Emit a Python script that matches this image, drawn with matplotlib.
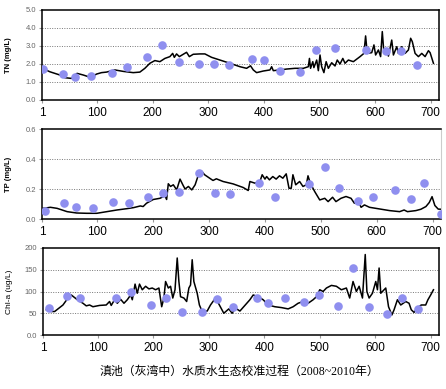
"""
滇池（灰湾中）水质水生态校准过程 2008~2010
TN / TP / Chl-a 模拟值(线) 与 实测值(点)
"""
import matplotlib
matplotlib.use('Agg')
import matplotlib.pyplot as plt

# ============ 数据 ============
# TN 模拟 (天, mg/L)
tn_day = [2, 15, 33, 42, 54, 64, 75, 84, 93, 99, 108, 117, 132, 147, 165, 177, 186, 195,
          204, 213, 222, 231, 236, 239, 243, 248, 255, 261, 266, 273, 285, 294, 306, 321,
          339, 357, 369, 376, 381, 387, 399, 411, 414, 417, 429, 441, 456, 471, 480, 482,
          484, 488, 490, 495, 498, 501, 504, 508, 512, 516, 522, 528, 532, 537, 542, 546,
          552, 561, 573, 580, 583, 586, 594, 598, 601, 606, 610, 613, 616, 621, 624, 630,
          633, 639, 642, 648, 654, 660, 664, 667, 672, 678, 684, 690, 696, 699, 705]
tn_sim = [1.76, 1.57, 1.39, 1.24, 1.20, 1.48, 1.39, 1.30, 1.33, 1.44, 1.52, 1.55, 1.67, 1.59,
          1.52, 1.55, 1.76, 2.04, 2.19, 2.13, 2.31, 2.41, 2.59, 2.37, 2.56, 2.41, 2.54, 2.65,
          2.41, 2.54, 2.56, 2.56, 2.37, 2.22, 2.04, 1.85, 1.76, 1.90, 1.67, 1.52, 1.61, 1.67,
          1.85, 1.63, 1.67, 1.72, 1.76, 1.76, 1.85, 2.31, 1.76, 2.13, 1.80, 2.22, 1.63, 2.50,
          1.85, 1.52, 2.13, 1.76, 2.07, 1.89, 2.22, 2.00, 2.31, 2.04, 2.22, 2.13, 2.41, 2.59,
          3.56, 2.59, 2.63, 3.06, 2.50, 2.78, 2.41, 3.80, 2.59, 2.78, 2.44, 3.33, 2.50, 2.96,
          2.59, 2.96, 2.59, 2.78, 3.43, 3.24, 2.59, 2.41, 2.59, 2.41, 2.74, 2.63, 2.04]
# TN 实测
tn_obs_day = [2, 38, 60, 90, 126, 154, 189, 217, 247, 284, 311, 338, 379, 401, 429, 465,
              493, 528, 583, 619, 646, 676]
tn_obs = [1.72, 1.44, 1.30, 1.35, 1.52, 1.83, 2.37, 3.07, 2.13, 2.02, 2.02, 1.94, 2.26,
          2.22, 1.61, 1.57, 2.76, 2.91, 2.80, 2.72, 2.74, 1.93]

# TP 模拟 (天, mg/L)
tp_day = [3, 16, 28, 46, 63, 81, 99, 117, 135, 153, 165, 177, 182, 188, 200, 212, 221, 224,
          227, 231, 236, 242, 248, 253, 257, 263, 269, 275, 281, 287, 292, 301, 307, 313,
          325, 343, 361, 370, 373, 382, 391, 395, 400, 403, 408, 414, 420, 426, 432, 438,
          443, 447, 450, 455, 462, 468, 474, 477, 481, 489, 498, 507, 513, 521, 527, 536,
          545, 554, 560, 566, 572, 578, 587, 605, 623, 641, 649, 655, 670, 679, 688, 694,
          699, 704, 710, 716]
tp_sim = [0.071, 0.078, 0.071, 0.049, 0.040, 0.038, 0.038, 0.049, 0.060, 0.069, 0.076,
          0.087, 0.083, 0.105, 0.130, 0.138, 0.154, 0.130, 0.235, 0.217, 0.228, 0.194,
          0.266, 0.228, 0.200, 0.217, 0.194, 0.228, 0.295, 0.317, 0.295, 0.272, 0.257,
          0.268, 0.250, 0.234, 0.210, 0.190, 0.250, 0.239, 0.250, 0.295, 0.266, 0.283,
          0.261, 0.283, 0.266, 0.288, 0.272, 0.301, 0.205, 0.205, 0.295, 0.228, 0.250,
          0.217, 0.228, 0.288, 0.239, 0.183, 0.127, 0.138, 0.116, 0.145, 0.116, 0.138,
          0.150, 0.138, 0.105, 0.127, 0.078, 0.094, 0.078, 0.067, 0.056, 0.049, 0.060,
          0.049, 0.056, 0.065, 0.083, 0.110, 0.149, 0.090, 0.066, 0.065]
# TP 实测
tp_obs_day = [6, 41, 62, 92, 128, 156, 191, 218, 247, 282, 310, 338, 390, 418, 479, 507,
              533, 566, 594, 632, 661, 684, 715]
tp_obs = [0.056, 0.105, 0.078, 0.071, 0.116, 0.109, 0.145, 0.176, 0.181, 0.310, 0.172,
          0.165, 0.243, 0.147, 0.234, 0.350, 0.210, 0.123, 0.145, 0.193, 0.131, 0.242, 0.031]

# Chl-a 模拟 (天, ug/L)
chl_day = [7, 16, 22, 28, 37, 46, 52, 58, 64, 73, 79, 85, 91, 103, 115, 121, 124, 130,
           135, 141, 147, 153, 159, 162, 167, 171, 175, 180, 186, 192, 198, 204, 210, 215,
           219, 222, 227, 231, 235, 239, 243, 246, 249, 255, 260, 264, 267, 270, 273, 279,
           283, 288, 297, 303, 312, 319, 327, 336, 342, 348, 356, 365, 374, 380, 389, 398,
           407, 419, 431, 443, 452, 461, 470, 479, 488, 494, 500, 506, 512, 521, 530, 539,
           548, 554, 560, 566, 571, 577, 582, 585, 589, 595, 601, 604, 607, 610, 616, 619,
           624, 630, 634, 640, 646, 655, 661, 665, 670, 676, 683, 691, 695, 700, 705]
chl_sim = [58, 54, 54, 60, 69, 85, 92, 86, 80, 73, 67, 69, 65, 68, 69, 77, 68, 81, 73, 82,
           73, 81, 92, 81, 117, 96, 117, 104, 112, 106, 108, 104, 108, 65, 85, 123, 108, 112,
           85, 104, 177, 123, 88, 85, 77, 108, 115, 173, 123, 96, 69, 54, 55, 69, 85, 69, 50,
           60, 50, 62, 55, 68, 81, 92, 88, 81, 69, 65, 63, 60, 65, 73, 77, 73, 81, 88, 104,
           100, 108, 114, 112, 104, 108, 85, 123, 100, 112, 85, 185, 100, 85, 96, 123, 104,
           154, 96, 104, 108, 65, 46, 58, 81, 69, 77, 73, 58, 52, 62, 69, 69, 81, 92, 104]
# Chl-a 实测
chl_obs_day = [11, 45, 68, 132, 160, 195, 222, 252, 288, 315, 343, 386, 407, 437, 471, 499,
               533, 560, 588, 621, 648, 677]
chl_obs = [63, 90, 84, 86, 98, 69, 86, 52, 52, 82, 65, 86, 73, 84, 76, 92, 67, 153, 65,
           48, 84, 60]

x_ticks = [1, 100, 200, 300, 400, 500, 600, 700]
tn_ticks = [0.0, 1.0, 2.0, 3.0, 4.0, 5.0]
tp_ticks = [0.0, 0.2, 0.4, 0.6]
chl_ticks = [0, 50, 100, 150, 200]
chl_tick_labels = ['0.0', '50', '100', '150', '200']

title = '滇池（灰湾中）水质水生态校准过程（2008~2010年）'

# ============ 画图 ============
DOT = '#8f8fef'
W, H = 446, 389

fig = plt.figure(figsize=(W / 100, H / 100), dpi=100)


def px_axes(left, top, right, bottom):
    return fig.add_axes([left / W, 1 - bottom / H, (right - left) / W, (bottom - top) / H])


def style(ax, yticks, ylim, ylabel, bold=True, ylabels=None):
    ax.set_xlim(1, 715)
    ax.set_ylim(*ylim)
    ax.set_xticks(x_ticks)
    ax.set_xticklabels([str(t) for t in x_ticks], fontsize=8.5, family='Liberation Sans')
    ax.set_yticks(yticks)
    if ylabels is None:
        ylabels = ['%.1f' % t for t in yticks]
    ax.set_yticklabels(ylabels, fontsize=5.5, color='#666666', family='Liberation Sans')
    ax.tick_params(axis='x', length=2, color='#999999', pad=3)
    ax.tick_params(axis='y', length=2, color='#999999', pad=2)
    for t in yticks[1:-1]:
        ax.axhline(t, color='#777777', lw=0.7, ls=(0, (1, 1.5)), zorder=0)
    for s in ax.spines.values():
        s.set_linewidth(1.1)
        s.set_color('black')
    ax.set_ylabel(ylabel, fontsize=5.5, fontweight='bold' if bold else 'normal',
                  family='Liberation Sans')
    ax.yaxis.set_label_coords(-0.076, 0.5)


# TN
ax1 = px_axes(42, 10, 439, 100)
ax1.plot(tn_day, tn_sim, color='black', lw=1.1, zorder=2)
ax1.plot(tn_obs_day, tn_obs, 'o', color=DOT, ms=6.2, mec='none', zorder=3)
style(ax1, tn_ticks, (0, 5), 'TN (mg/L)')

# TP
ax2 = px_axes(42, 129, 441, 219)
ax2.plot(tp_day, tp_sim, color='black', lw=1.1, zorder=2)
ax2.plot(tp_obs_day, tp_obs, 'o', color=DOT, ms=6.2, mec='none', zorder=3)
style(ax2, tp_ticks, (0, 0.6), 'TP (mg/L)')
ax2.spines['right'].set_color('#cccccc')
ax2.spines['right'].set_linewidth(0.8)

# Chl-a
ax3 = px_axes(43, 248, 439, 335)
ax3.plot(chl_day, chl_sim, color='black', lw=1.1, zorder=2)
ax3.plot(chl_obs_day, chl_obs, 'o', color=DOT, ms=6.2, mec='none', zorder=3)
style(ax3, chl_ticks, (0, 200), 'Chl-a (ug/L)', bold=False, ylabels=chl_tick_labels)
ax3.yaxis.label.set_size(6)

fig.text(239 / W, 1 - 372 / H, title, ha='center', va='center', fontsize=8.6,
         family=['Liberation Serif', 'Noto Sans CJK SC'])

fig.savefig('out.png', dpi=100)
plt.close(fig)
